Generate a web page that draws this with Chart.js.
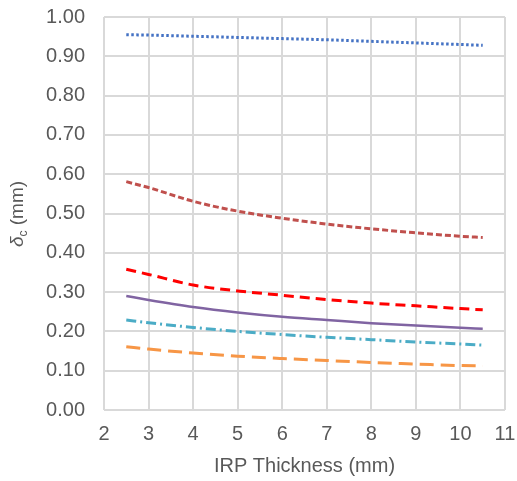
<!DOCTYPE html>
<html>
<head>
<meta charset="utf-8">
<script src="https://cdn.jsdelivr.net/npm/chart.js@4/dist/chart.umd.min.js"></script>
<style>
  html, body { margin: 0; padding: 0; background: #fff; }
  #wrap { width: 517px; height: 481px; }
</style>
</head>
<body>
<div id="wrap"><canvas id="chart" width="517" height="481"></canvas></div>
<script>
// IRP thickness (mm) and delta_c (mm) for each curve
const thickness = [2.5, 3, 4, 5, 6, 7, 8, 9, 10, 10.5];
const blueDotted = [0.955, 0.954, 0.951, 0.948, 0.945, 0.942, 0.938, 0.934, 0.930, 0.928];
const brownDash = [0.581, 0.566, 0.531, 0.506, 0.488, 0.473, 0.461, 0.451, 0.442, 0.439];
const redDash = [0.358, 0.345, 0.318, 0.303, 0.292, 0.281, 0.272, 0.265, 0.258, 0.255];
const purpleSolid = [0.290, 0.280, 0.262, 0.248, 0.237, 0.229, 0.221, 0.215, 0.209, 0.207];
const cyanDashDot = [0.229, 0.222, 0.210, 0.200, 0.192, 0.185, 0.179, 0.173, 0.168, 0.165];
const orangeLongDash = [0.161, 0.155, 0.145, 0.137, 0.131, 0.126, 0.121, 0.117, 0.113, 0.112];

const FONT = '"Liberation Sans", Arial, sans-serif';
const TEXT = '#595959';

function pts(ys) {
  return thickness.map((x, i) => ({ x: x, y: ys[i] }));
}

function series(ys, color, dash, width) {
  return {
    data: pts(ys),
    borderColor: color,
    borderWidth: width || 3,
    borderDash: dash,
    borderCapStyle: 'butt',
    pointRadius: 0,
    fill: false,
    cubicInterpolationMode: 'monotone'
  };
}

// y-axis title with a subscript, drawn by hand
const yTitle = {
  id: 'yTitle',
  afterDraw(chart) {
    const ctx = chart.ctx;
    ctx.save();
    ctx.translate(18, 214);
    ctx.rotate(-Math.PI / 2);
    ctx.fillStyle = TEXT;
    ctx.textBaseline = 'middle';
    ctx.font = 'italic 19px ' + FONT;
    const w1 = ctx.measureText('\u03b4').width;
    ctx.font = '12px ' + FONT;
    const w2 = ctx.measureText('c').width;
    ctx.font = '19px ' + FONT;
    const w3 = ctx.measureText(' (mm)').width;
    let x = -(w1 + w2 + w3) / 2;
    ctx.font = 'italic 19px ' + FONT;
    ctx.fillText('\u03b4', x, 0);
    x += w1;
    ctx.font = '12px ' + FONT;
    ctx.fillText('c', x, 6);
    x += w2;
    ctx.font = '19px ' + FONT;
    ctx.fillText(' (mm)', x, 0);
    ctx.restore();
  }
};

new Chart(document.getElementById('chart'), {
  type: 'line',
  data: {
    datasets: [
      series(blueDotted, '#4472C4', [2.5, 2.5]),
      series(brownDash, '#C0504D', [6, 3]),
      series(redDash, '#FF0000', [10, 6]),
      series(purpleSolid, '#8064A2', [], 2.5),
      series(cyanDashDot, '#4BACC6', [10, 4, 2, 4]),
      series(orangeLongDash, '#F79646', [14, 7])
    ]
  },
  options: {
    responsive: false,
    animation: false,
    layout: { padding: { left: 0, top: 17, right: 12, bottom: 0 } },
    plugins: {
      legend: { display: false },
      tooltip: { enabled: false }
    },
    scales: {
      x: {
        type: 'linear',
        min: 2,
        max: 11,
        ticks: { stepSize: 1, padding: 12, color: TEXT, font: { family: FONT, size: 20 } },
        grid: { color: '#d9d9d9', lineWidth: 2, drawTicks: false },
        border: { display: false },
        title: { display: true, text: 'IRP Thickness (mm)', color: TEXT, font: { family: FONT, size: 20 }, padding: { top: 4, bottom: 3 } },
        afterFit(scale) {
          scale.height = 71;
          scale.paddingLeft = 0;
          scale.paddingRight = 0;
        }
      },
      y: {
        min: 0,
        max: 1,
        ticks: {
          stepSize: 0.1,
          padding: 19,
          color: TEXT,
          font: { family: FONT, size: 20 },
          callback: v => v.toFixed(2)
        },
        grid: { color: '#d9d9d9', lineWidth: 2, drawTicks: false },
        border: { display: false },
        afterFit(scale) {
          scale.width = 104;
          scale.paddingTop = 0;
          scale.paddingBottom = 0;
        }
      }
    }
  },
  plugins: [yTitle]
});
</script>
</body>
</html>
